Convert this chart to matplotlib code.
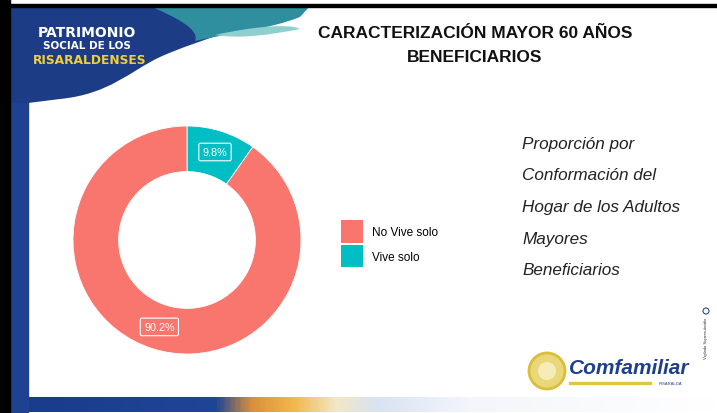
import matplotlib
matplotlib.use("Agg")
import matplotlib.pyplot as plt
import numpy as np
from matplotlib.patches import Rectangle, Circle, Patch, PathPatch
from matplotlib.path import Path
from matplotlib.colors import LinearSegmentedColormap

# ---- data ----
categories = ["No Vive solo", "Vive solo"]
values = [90.2, 9.8]
colors = ["#F8766D", "#00BFC4"]
pct_labels = ["90.2%", "9.8%"]
title_lines = ["CARACTERIZACIÓN MAYOR 60 AÑOS", "BENEFICIARIOS"]
side_text = ["Proporción por", "Conformación del", "Hogar de los Adultos",
             "Mayores", "Beneficiarios"]
logo_lines = ["PATRIMONIO", "SOCIAL DE LOS", "RISARALDENSES"]

plt.rcParams['font.family'] = ['Liberation Sans', 'DejaVu Sans']

W, H = 717, 414
fig = plt.figure(figsize=(W / 100, H / 100), dpi=100)
fig.patch.set_facecolor("white")

bg = fig.add_axes([0, 0, 1, 1])
bg.axis('off')

# bottom gradient band
cmap = LinearSegmentedColormap.from_list("band", [
    (0.0, "#1b3a8c"), (0.29, "#1f4597"), (0.34, "#d98f3a"), (0.40, "#f2b64a"),
    (0.46, "#f3e7c4"), (0.52, "#d9e3f2"), (0.65, "#f3f6fb"), (1.0, "#ffffff")])
grad = np.linspace(0, 1, 400).reshape(1, -1)
bg.imshow(grad, extent=(10, W, 413, 398), aspect='auto', cmap=cmap, zorder=1)

bg.set_xlim(0, W)
bg.set_ylim(H, 0)

blue = "#1d3c86"
# left black border and top black line
bg.add_patch(Rectangle((0, 0), 10, H, color="black", zorder=5))
bg.add_patch(Rectangle((0, 5), W, 2.5, color="black", zorder=5))
# left blue strip
bg.add_patch(Rectangle((10, 60), 18, 353, color="#1f4192", zorder=2))

# header wave (dark blue)
verts = [(10, 7), (300, 7),
         (250, 28), (200, 40), (160, 58),
         (130, 72), (110, 95), (60, 100),
         (28, 104), (10, 104), (10, 7)]
codes = [Path.MOVETO, Path.LINETO,
         Path.CURVE4, Path.CURVE4, Path.CURVE4,
         Path.CURVE4, Path.CURVE4, Path.CURVE4,
         Path.LINETO, Path.LINETO, Path.CLOSEPOLY]
bg.add_patch(PathPatch(Path(verts, codes), fc=blue, ec="none", zorder=3))

# teal wave
verts2 = [(150, 7), (310, 7), (300, 18),
          (270, 30), (230, 34), (195, 42),
          (200, 30), (175, 18), (150, 7)]
codes2 = [Path.MOVETO, Path.LINETO, Path.LINETO,
          Path.CURVE4, Path.CURVE4, Path.CURVE4,
          Path.CURVE4, Path.CURVE4, Path.CURVE4]
bg.add_patch(PathPatch(Path(verts2, codes2), fc="#2f8f9e", ec="none", zorder=3.5))
verts3 = [(215, 36), (250, 28), (290, 24), (300, 30),
          (270, 36), (240, 40), (215, 36)]
codes3 = [Path.MOVETO, Path.CURVE4, Path.CURVE4, Path.CURVE4,
          Path.CURVE4, Path.CURVE4, Path.CURVE4]
bg.add_patch(PathPatch(Path(verts3, codes3), fc="#8fd0cf", ec="none", zorder=3.6))

# logo text
bg.text(87, 33, logo_lines[0], color="white", fontsize=10, fontweight="bold",
        family="DejaVu Sans", ha="center", va="center", zorder=6)
bg.text(87, 46, logo_lines[1], color="white", fontsize=7.5, fontweight="bold",
        family="DejaVu Sans", ha="center", va="center", zorder=6)
bg.text(90, 60, logo_lines[2], color="#f2cf3a", fontsize=8.8, fontweight="bold",
        family="DejaVu Sans", ha="center", va="center", zorder=6)

# title
bg.text(475, 33, title_lines[0], fontsize=12.5, fontweight="bold", color="#111111",
        ha="center", va="center", zorder=6)
bg.text(475, 57, title_lines[1], fontsize=12.5, fontweight="bold", color="#111111",
        ha="center", va="center", zorder=6)

# side text
for t, y in zip(side_text, [145, 176, 208, 240, 271]):
    bg.text(522, y, t, fontsize=12.3, fontstyle="italic", color="#222222",
            ha="left", va="center", zorder=6)

# Comfamiliar logo
bg.add_patch(Circle((547, 372), 18, fc="#ead77a", ec="#d9bf3c", lw=2, zorder=6))
bg.add_patch(Circle((547, 372), 9, fc="#f6ecb8", ec="none", zorder=6))
bg.text(569, 369, "Comfamiliar", fontsize=15, fontweight="bold", fontstyle="italic",
        color="#1f3f8c", ha="left", va="center", zorder=6)
bg.add_patch(Rectangle((569, 383), 82, 2, color="#e0c640", zorder=6))
bg.text(670, 384, "RISARALDA", fontsize=3, color="#1f3f8c", ha="center",
        va="center", zorder=6)
bg.text(706, 338, "Vigilado Supersubsidio", fontsize=3, color="#333333",
        rotation=90, ha="center", va="center", zorder=6)
bg.add_patch(Circle((706, 312), 3, fc="none", ec="#2c4a9a", lw=0.8, zorder=6))

# ---- donut ----
cx, cy, R = 187, 241, 114
pax = fig.add_axes([(cx - R) / W, (H - cy - R) / H, 2 * R / W, 2 * R / H])
order = [1, 0]  # Vive solo starts at 12 o'clock, clockwise
wedges, _ = pax.pie([values[i] for i in order], colors=[colors[i] for i in order],
                    startangle=90, counterclock=False, radius=1,
                    wedgeprops=dict(width=0.4, edgecolor="white", linewidth=0.6))
pax.set_xlim(-1, 1)
pax.set_ylim(-1, 1)
pax.set_aspect("equal")
label_r = [0.81, 0.80]
for w, i, r in zip(wedges, order, label_r):
    mid = np.deg2rad((w.theta1 + w.theta2) / 2)
    pax.text(r * np.cos(mid), r * np.sin(mid), pct_labels[i], color="white",
             fontsize=7.8, ha="center", va="center",
             bbox=dict(boxstyle="round,pad=0.35,rounding_size=0.15", fc="none",
                       ec="white", lw=0.8))

# legend
handles = [Patch(facecolor=c, edgecolor="none") for c in colors]
fs = 8.5
fig.legend(handles, categories, loc="upper left",
           bbox_to_anchor=(341 / W, 1 - 221 / H), frameon=False,
           fontsize=fs, handlelength=1.85, handleheight=2.58,
           handletextpad=0.75, labelspacing=0.17, borderpad=0, borderaxespad=0)

fig.savefig("out.png", dpi=100)
